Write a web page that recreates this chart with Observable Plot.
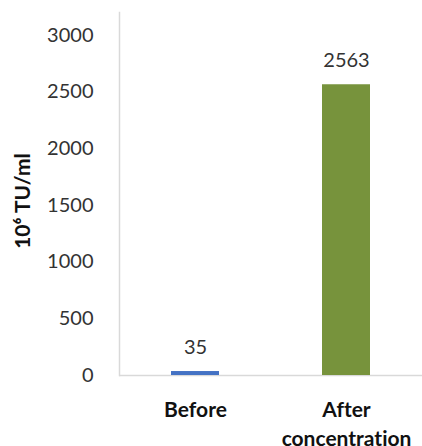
<!DOCTYPE html>
<html>
<head>
<meta charset="utf-8">
<script src="https://cdn.jsdelivr.net/npm/d3@7"></script>
<script src="https://cdn.jsdelivr.net/npm/@observablehq/plot@0.6"></script>
<style>
  html, body { margin: 0; padding: 0; background: #fff; }
  svg text { font-variant-ligatures: none; font-feature-settings: "liga" 0, "clig" 0; }
</style>
</head>
<body>
<div id="chart"></div>
<script>
const categories = ["Before", "After\nconcentration"];
const values = [35, 2563];
const barColors = ["#4472C4", "#77933C"];
const yTicks = [0, 500, 1000, 1500, 2000, 2500, 3000];
const yLabel = "10⁶ TU/ml";

const data = categories.map((c, i) => ({category: c, value: values[i], color: barColors[i]}));
const font = "Lato, 'Open Sans', sans-serif";

const chart = Plot.plot({
  width: 422,
  height: 446,
  marginLeft: 119,
  marginRight: 0,
  marginTop: 12,
  marginBottom: 71,
  style: {fontFamily: font, background: "#fff"},
  x: {domain: categories, paddingInner: 0.684, paddingOuter: 0.342, axis: null},
  y: {domain: [0, 3200], axis: null},
  marks: [
    Plot.frame({anchor: "left", stroke: "#d9d9d9", strokeWidth: 1.5}),
    Plot.ruleY([0], {stroke: "#d9d9d9", strokeWidth: 1.5}),
    Plot.barY(data, {x: "category", y: "value", fill: "color"}),
    Plot.text(data, {x: "category", y: "value", text: d => String(d.value), dy: -24, lineAnchor: "middle", fontSize: 20, fill: "#333"}),
    Plot.axisY({ticks: yTicks, tickSize: 0, tickPadding: 26, fontSize: 20, fill: "#333", label: null, tickFormat: d => String(d)}),
    Plot.axisX({tickSize: 0, tickPadding: 20, fontSize: 21, fontWeight: "bold", fill: "#111", lineHeight: 1.42, label: null, tickFormat: d => d}),
    Plot.text([yLabel], {frameAnchor: "left", dx: -96, dy: 7, rotate: -90, text: d => d, fontSize: 21, fontWeight: "bold", fill: "#111", lineAnchor: "middle", textAnchor: "middle"})
  ]
});
document.getElementById("chart").appendChild(chart);
</script>
</body>
</html>
